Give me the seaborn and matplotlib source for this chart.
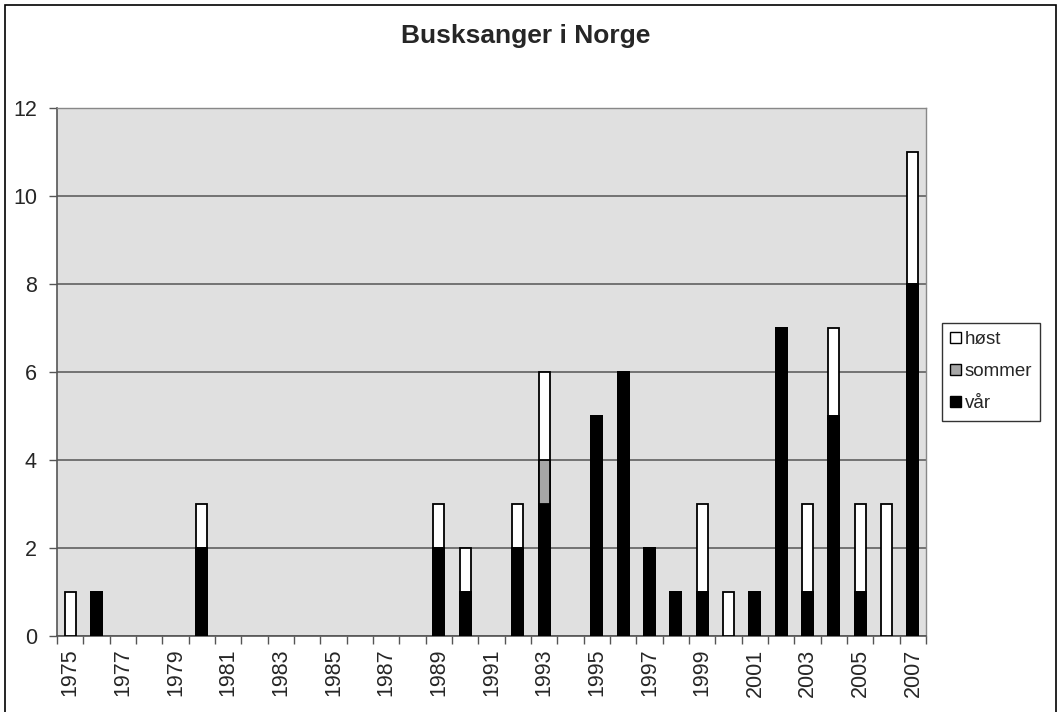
import numpy as np
import pandas as pd
import matplotlib
matplotlib.use("Agg")
from matplotlib import pyplot as plt
from matplotlib.patches import Rectangle, Patch
import seaborn as sns

# data
years = list(range(1975, 2008))
vaar = [0, 1, 0, 0, 0, 2, 0, 0, 0, 0, 0, 0, 0, 0, 2, 1, 0, 2, 3, 0, 5, 6, 2, 1, 1, 0, 1, 7, 1, 5, 1, 0, 8]
sommer = [0, 0, 0, 0, 0, 0, 0, 0, 0, 0, 0, 0, 0, 0, 0, 0, 0, 0, 1, 0, 0, 0, 0, 0, 0, 0, 0, 0, 0, 0, 0, 0, 0]
hoest = [1, 0, 0, 0, 0, 1, 0, 0, 0, 0, 0, 0, 0, 0, 1, 1, 0, 1, 2, 0, 0, 0, 0, 0, 2, 1, 0, 0, 2, 2, 2, 3, 3]

df = pd.DataFrame({'year': [str(y) for y in years], 'vår': vaar, 'sommer': sommer, 'høst': hoest})
df['vs'] = df['vår'] + df['sommer']
df['total'] = df['vs'] + df['høst']

sns.set_theme(style='white')
plt.rcParams['font.family'] = ['Liberation Sans', 'DejaVu Sans']

fig = plt.figure(figsize=(10.6, 7.12), dpi=100)
ax = fig.add_axes([0.0538, 0.1067, 0.8199, 0.7416])
ax.set_facecolor('#e0e0e0')

# stacked bars: draw cumulative layers from the top down
for col, color in [('total', 'white'), ('vs', '#a6a6a6'), ('vår', 'black')]:
    sns.barplot(data=df, x='year', y=df[col].where(df[col] > 0, np.nan), order=df['year'],
                color=color, width=0.42, edgecolor='black', linewidth=1.3,
                saturation=1, ax=ax, zorder=3)

ax.set_ylim(0, 12)
ax.set_xlim(-0.5, len(years) - 0.5)
ax.set_yticks(range(0, 13, 2))
ax.yaxis.grid(True, color='#555555', linewidth=1.1, zorder=1)
ax.set_axisbelow(True)
ax.set_xlabel('')
ax.set_ylabel('')

ax.set_xticks(range(0, len(years), 2))
ax.set_xticklabels([str(y) for y in years[::2]], rotation=90, fontsize=15.5)
ax.set_xticks(np.arange(-0.5, len(years), 1), minor=True)
ax.tick_params(axis='x', which='major', length=0, pad=9)
ax.tick_params(axis='x', which='minor', length=6, width=1, color='#555555', direction='out', bottom=True)
ax.tick_params(axis='y', length=6, width=1, color='#555555', direction='out', left=True, labelsize=15.5, pad=8.5)

for side in ['top', 'right']:
    ax.spines[side].set_color('#888888')
    ax.spines[side].set_linewidth(1)
for side in ['left', 'bottom']:
    ax.spines[side].set_color('#555555')
    ax.spines[side].set_linewidth(1.2)

fig.text(0.4955, 0.95, 'Busksanger i Norge', ha='center', va='center', fontsize=19, fontweight='bold')

handles = [Patch(facecolor='white', edgecolor='black', label='høst'),
           Patch(facecolor='#a6a6a6', edgecolor='black', label='sommer'),
           Patch(facecolor='black', edgecolor='black', label='vår')]
leg = fig.legend(handles=handles, loc='center left', bbox_to_anchor=(0.8887, 0.478), fontsize=13.5,
                 frameon=True, fancybox=False, edgecolor='black', handlelength=0.55, handleheight=0.55,
                 handletextpad=0.2, labelspacing=0.8, borderpad=0.45, borderaxespad=0)
leg.get_frame().set_linewidth(1)

fig.patches.append(Rectangle((5 / 1060, -0.02), 1051 / 1060, 1.02 - 5 / 712, transform=fig.transFigure,
                             fill=False, edgecolor='black', linewidth=1.2))

fig.savefig('out.png', dpi=100)
